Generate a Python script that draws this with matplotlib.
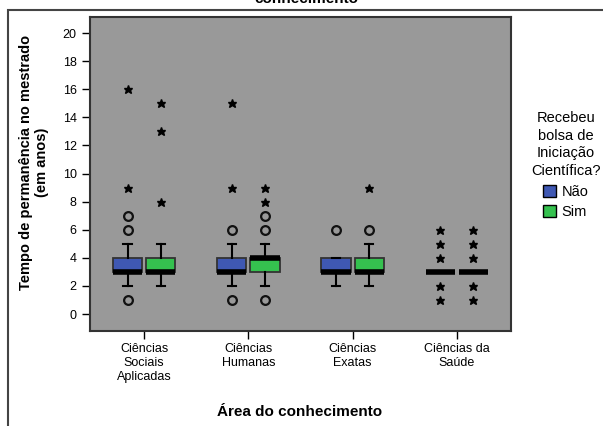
import matplotlib
matplotlib.use("Agg")
import matplotlib.pyplot as plt
from matplotlib.patches import Patch, Rectangle

plt.rcParams["font.family"] = ["Liberation Sans", "DejaVu Sans"]

# dados (anos)
areas = ["Ciências\nSociais\nAplicadas", "Ciências\nHumanas", "Ciências\nExatas", "Ciências da\nSaúde"]

nao_q1 = [3, 3, 3, 3]
nao_med = [3, 3, 3, 3]
nao_q3 = [4, 4, 4, 3]
nao_wlo = [2, 2, 2, 3]
nao_whi = [5, 5, 4, 3]
nao_out = [[1, 6, 7], [1, 6], [6], []]
nao_ext = [[9, 16], [9, 15], [], [1, 2, 4, 5, 6]]

sim_q1 = [3, 3, 3, 3]
sim_med = [3, 4, 3, 3]
sim_q3 = [4, 4, 4, 3]
sim_wlo = [2, 2, 2, 3]
sim_whi = [5, 5, 5, 3]
sim_out = [[], [1, 6, 7], [6], []]
sim_ext = [[8, 13, 15], [8, 9], [9], [1, 2, 4, 5, 6]]

azul = "#3f58b3"
verde = "#35c14f"
off = 0.16
w = 0.28


def stats(q1, med, q3, wlo, whi, out):
    s = []
    for i in range(len(q1)):
        s.append({"q1": q1[i], "med": med[i], "q3": q3[i],
                  "whislo": wlo[i], "whishi": whi[i], "fliers": out[i]})
    return s


fig = plt.figure(figsize=(6.03, 4.26), dpi=100)
ax = fig.add_axes([90/603, 1-331/426, 421/603, 314/426])
ax.set_facecolor("#999999")

grupos = [
    (stats(nao_q1, nao_med, nao_q3, nao_wlo, nao_whi, nao_out), nao_ext, -off, azul),
    (stats(sim_q1, sim_med, sim_q3, sim_wlo, sim_whi, sim_out), sim_ext, off, verde),
]
for st, ext, dx, cor in grupos:
    pos = [i + dx for i in range(len(areas))]
    ax.bxp(st, positions=pos, widths=w, capwidths=0.08, patch_artist=True,
           boxprops=dict(facecolor=cor, edgecolor="#333333", lw=1.3),
           medianprops=dict(color="black", lw=4, solid_capstyle="butt"),
           whiskerprops=dict(color="black", lw=1.5),
           capprops=dict(color="black", lw=1.5),
           flierprops=dict(marker="o", markersize=6.3, markerfacecolor="none",
                           markeredgecolor="#111111", markeredgewidth=1.6))
    for i, vals in enumerate(ext):
        ax.plot([pos[i]] * len(vals), vals, ls="none", marker="*",
                markersize=6.3, color="black")

ax.set_xlim(-0.52, 3.52)
ax.set_ylim(-1.21, 21.14)
ax.set_yticks(range(0, 21, 2))
ax.set_xticks(range(len(areas)))
ax.set_xticklabels(areas, fontsize=9)
ax.tick_params(axis="y", labelsize=9, length=6, width=1)
ax.tick_params(axis="x", length=6, width=1, pad=3)
for sp in ax.spines.values():
    sp.set_color("#333333")
    sp.set_linewidth(1.5)

fig.text(306/603, 1-3/426, "conhecimento", ha="center", va="baseline",
         fontsize=11, fontweight="bold")
fig.text(300/603, 1-412/426, "Área do conhecimento", ha="center", va="center",
         fontsize=11, fontweight="bold")
fig.text(34/603, 1-162/426, "Tempo de permanência no mestrado\n(em anos)",
         ha="center", va="center", rotation=90, fontsize=10.5,
         fontweight="bold", linespacing=1.25)

handles = [Patch(facecolor=azul, edgecolor="black", label="Não"),
           Patch(facecolor=verde, edgecolor="black", label="Sim")]
leg = fig.legend(handles=handles, title="Recebeu\nbolsa de\nIniciação\nCientífica?",
                 loc="center", bbox_to_anchor=(566/603, 1-165/426), frameon=False,
                 fontsize=10.5, title_fontsize=10.5, handlelength=0.85, handleheight=0.85,
                 handletextpad=0.4, labelspacing=0.45)
leg.get_title().set_multialignment("center")
leg.get_title().set_linespacing(1.35)

# moldura da figura
fig.add_artist(Rectangle((8/603, -0.1), 1.2, 1.1 - 10/426,
                         transform=fig.transFigure, fill=False,
                         edgecolor="#444444", lw=1.5))

fig.savefig("out.png", dpi=100)
